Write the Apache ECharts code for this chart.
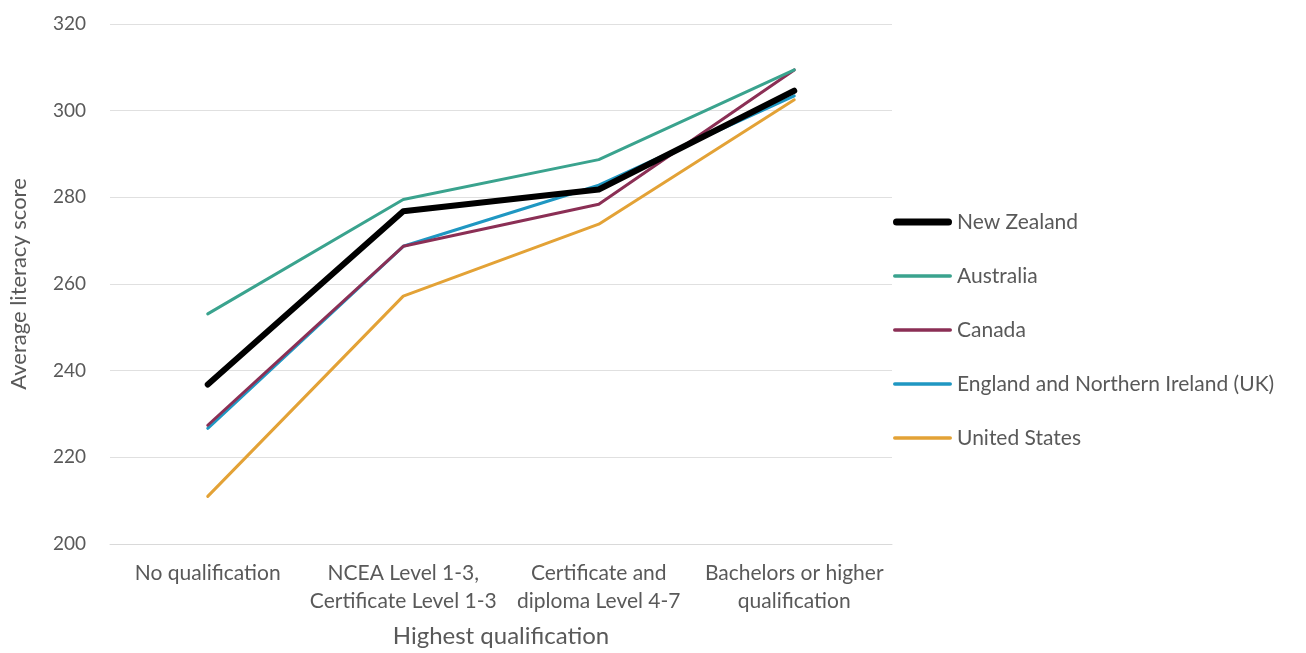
<!DOCTYPE html>
<html>
<head>
<meta charset="utf-8">
<script src="https://cdn.jsdelivr.net/npm/echarts@6/dist/echarts.min.js"></script>
<style>
  html, body { margin: 0; padding: 0; background: #ffffff; }
  #chart { width: 1306px; height: 653px; }
</style>
</head>
<body>
<div id="chart"></div>
<script>
// Highest qualification categories (x axis)
const categories = [
  'No qualification',
  'NCEA Level 1-3,\nCertificate Level 1-3',
  'Certificate and\ndiploma Level 4-7',
  'Bachelors or higher\nqualification'
];

// Average literacy score by country
const newZealand = [236.8, 276.8, 281.8, 304.6];
const australia  = [253.1, 279.5, 288.7, 309.4];
const canada     = [227.4, 268.7, 278.4, 309.4];
const england    = [226.7, 268.7, 282.8, 303.4];
const usa        = [211.0, 257.2, 273.8, 302.5];

const seriesNames = [
  'New Zealand',
  'Australia',
  'Canada',
  'England and Northern Ireland (UK)',
  'United States'
];
const seriesData = [newZealand, australia, canada, england, usa];
const seriesColors = ['#000000', '#3aa38e', '#8b2f55', '#1f97c2', '#e3a236'];
const seriesWidths = [6, 3, 3, 3, 3];

// Legend swatches: rounded bars, thicker for New Zealand
function barIcon(h) {
  const r = h / 2, w = 59;
  return 'path://M' + r + ',0H' + (w - r) + 'A' + r + ',' + r + ' 0 0 1 ' + (w - r) + ',' + h +
    'H' + r + 'A' + r + ',' + r + ' 0 0 1 ' + r + ',0Z';
}

const font = 'Lato, "Open Sans", sans-serif';
const textGrey = '#595959';

const chart = echarts.init(document.getElementById('chart'), null, { renderer: 'canvas' });

chart.setOption({
  animation: false,
  backgroundColor: '#ffffff',
  grid: { left: 100, right: 414, top: 24, bottom: 107 },
  legend: {
    orient: 'vertical',
    left: 888,
    top: 205,
    itemWidth: 59,
    itemHeight: 24,
    itemGap: 30,
    symbolKeepAspect: true,
    data: seriesNames.map((name, i) => ({
      name: name,
      icon: barIcon(i === 0 ? 7 : 3.5)
    })),
    textStyle: { color: textGrey, fontSize: 21, fontFamily: font, height: 24, lineHeight: 24 }
  },
  xAxis: {
    type: 'category',
    data: categories,
    boundaryGap: true,
    axisLine: { show: true, lineStyle: { color: '#d9d9d9', width: 1 } },
    axisTick: { show: false },
    axisLabel: {
      color: textGrey, fontSize: 21, fontFamily: font, margin: 15,
      lineHeight: 28, interval: 0
    },
    name: 'Highest qualification',
    nameLocation: 'middle',
    nameGap: 80,
    nameTextStyle: { color: textGrey, fontSize: 24, fontFamily: font }
  },
  yAxis: {
    type: 'value',
    min: 200,
    max: 320,
    interval: 20,
    axisLine: { show: false },
    axisTick: { show: false },
    splitLine: { lineStyle: { color: '#e0e0e0', width: 1 } },
    axisLabel: { color: textGrey, fontSize: 19, fontFamily: font, margin: 24 },
    name: 'Average literacy score',
    nameLocation: 'middle',
    nameGap: 80,
    nameTextStyle: { color: textGrey, fontSize: 22, fontFamily: font }
  },
  series: seriesNames.map((name, i) => ({
    name: name,
    type: 'line',
    data: seriesData[i],
    symbol: 'none',
    z: i === 0 ? 10 : 5 - i,
    color: seriesColors[i],
    lineStyle: { color: seriesColors[i], width: seriesWidths[i], cap: 'round', join: 'round' }
  }))
});
</script>
</body>
</html>
